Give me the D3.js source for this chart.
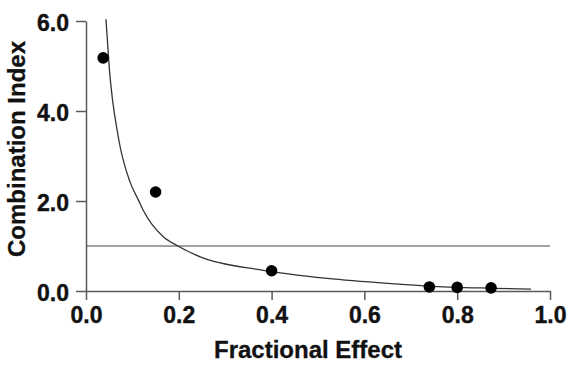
<!DOCTYPE html>
<html>
<head>
<meta charset="utf-8">
<script src="https://cdn.jsdelivr.net/npm/d3@7"></script>
<style>
  html, body { margin: 0; padding: 0; background: #fff; }
  svg { display: block; font-family: "Liberation Sans", Arial, sans-serif; }
</style>
</head>
<body>
<svg id="chart" width="571" height="367"></svg>
<script>
// measured data points (fractional effect, combination index)
const pointFa = [0.037, 0.15, 0.40, 0.74, 0.80, 0.873];
const pointCi = [5.18, 2.2, 0.45, 0.09, 0.08, 0.07];

// fitted curve
const curveFa = [0.043, 0.050, 0.070, 0.095, 0.113, 0.123, 0.166, 0.196, 0.246, 0.376, 0.52, 0.663, 0.736, 0.879, 0.959];
const curveCi = [6.04, 4.98, 3.40, 2.42, 2.02, 1.80, 1.21, 1.01, 0.76, 0.47, 0.28, 0.16, 0.11, 0.06, 0.04];

const xTicks = [0, 0.2, 0.4, 0.6, 0.8, 1.0];
const yTicks = [0, 2, 4, 6];
const referenceCi = 1;

const svg = d3.select("#chart");
const margin = { top: 21, right: 21, bottom: 76, left: 86 };
const width = 571;
const height = 367;

const x = d3.scaleLinear().domain([0, 1]).range([margin.left, width - margin.right]);
const y = d3.scaleLinear().domain([0, 6]).range([height - margin.bottom, margin.top]);

const axisColor = "#5a5a5a";

function styleAxis(g) {
  g.select(".domain").attr("stroke", axisColor).attr("stroke-width", 1.5);
  g.selectAll(".tick line").attr("stroke", axisColor).attr("stroke-width", 1.5);
  g.selectAll(".tick text")
    .style("font-size", "23px")
    .style("font-weight", "bold")
    .style("font-family", "'Liberation Sans', Arial, sans-serif")
    .attr("fill", "#111")
    .attr("stroke", "#111")
    .attr("stroke-width", 0.4);
}

// x axis
svg.append("g")
  .attr("transform", `translate(0,${y(0)})`)
  .call(d3.axisBottom(x).tickValues(xTicks).tickSize(9).tickSizeOuter(0).tickPadding(7).tickFormat(d3.format(".1f")))
  .call(styleAxis);

// y axis
svg.append("g")
  .attr("transform", `translate(${x(0)},0)`)
  .call(d3.axisLeft(y).tickValues(yTicks).tickSize(10).tickSizeOuter(0).tickPadding(7).tickFormat(d3.format(".1f")))
  .call(styleAxis)
  .call((g) => g.selectAll(".tick text").attr("dy", "0.42em"));

// reference line at CI = 1
svg.append("line")
  .attr("x1", x(0)).attr("x2", x(1))
  .attr("y1", y(referenceCi)).attr("y2", y(referenceCi))
  .attr("stroke", "#444").attr("stroke-width", 1.1);

// fitted curve
const curveData = curveFa.map((fa, i) => ({ fa, ci: curveCi[i] }));
svg.append("path")
  .datum(curveData)
  .attr("fill", "none")
  .attr("stroke", "#333")
  .attr("stroke-width", 1.3)
  .attr("d", d3.line().x((d) => x(d.fa)).y((d) => y(d.ci)).curve(d3.curveMonotoneX));

// data points
svg.append("g")
  .selectAll("circle")
  .data(pointFa.map((fa, i) => ({ fa, ci: pointCi[i] })))
  .join("circle")
  .attr("cx", (d) => x(d.fa))
  .attr("cy", (d) => y(d.ci))
  .attr("r", 5.8)
  .attr("fill", "#000");

// axis titles
svg.append("text")
  .attr("x", 308)
  .attr("y", 358)
  .attr("text-anchor", "middle")
  .style("font-size", "24px")
  .style("font-weight", "bold")
  .attr("fill", "#111")
  .attr("stroke", "#111")
  .attr("stroke-width", 0.3)
  .text("Fractional Effect");

svg.append("text")
  .attr("transform", "translate(25,149) rotate(-90)")
  .attr("text-anchor", "middle")
  .style("font-size", "24px")
  .style("font-weight", "bold")
  .attr("fill", "#111")
  .attr("stroke", "#111")
  .attr("stroke-width", 0.3)
  .text("Combination Index");
</script>
</body>
</html>
